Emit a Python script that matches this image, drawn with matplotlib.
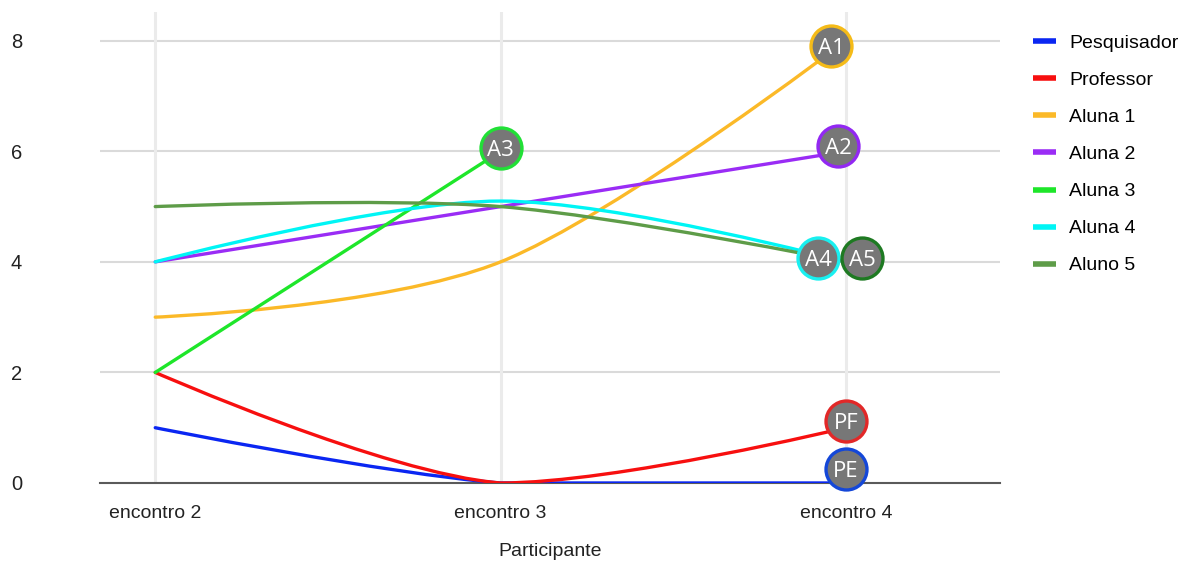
import matplotlib
matplotlib.use("Agg")
import matplotlib.pyplot as plt
from matplotlib.path import Path
from matplotlib.patches import PathPatch
from matplotlib.lines import Line2D
from matplotlib.transforms import offset_copy

# ---- data -----------------------------------------------------------
encontros = ["encontro 2", "encontro 3", "encontro 4"]
series_names = ["Pesquisador", "Professor", "Aluna 1", "Aluna 2",
                "Aluna 3", "Aluna 4", "Aluno 5"]
pesquisador = [1, 0, 0]
professor = [2, 0, 1]
aluna1 = [3, 4, 8]
aluna2 = [4, 5, 6]
aluna3 = [2, 6]
aluna4 = [4, 5.1, 4]
aluno5 = [5, 5, 4]
y_ticks = [0, 2, 4, 6, 8]

line_colors = ["#0a26f2", "#f70f0f", "#fbb928", "#9a2cf5",
               "#1ee62a", "#00f5f5", "#5e9c48"]

# badges drawn at the last point of each series
badge_labels = ["PE", "PF", "A1", "A2", "A3", "A4", "A5"]
badge_edges = ["#1447d8", "#e22828", "#f5bb18", "#9228f2",
               "#21e036", "#19f0f0", "#1e7a22"]
badge_offsets = [(0, 14), (0, 7), (-15, -5), (-8, 5), (0, 3), (-28, 4), (16, 4)]


def smooth_path(ys, floor=0.0):
    """Bezier through the points, Google-Charts-like 'function' curve.
    Control points are kept above the axis floor."""
    xs = list(range(len(ys)))
    pts = list(zip(xs, ys))
    n = len(pts)
    verts = [pts[0]]
    codes = [Path.MOVETO]
    k = 1 / 6
    for i in range(n - 1):
        p0 = pts[i - 1] if i > 0 else pts[i]
        p1, p2 = pts[i], pts[i + 1]
        p3 = pts[i + 2] if i + 2 < n else p2
        c1 = (p1[0] + (p2[0] - p0[0]) * k, p1[1] + (p2[1] - p0[1]) * k) if i > 0 else p1
        c2 = (p2[0] - (p3[0] - p1[0]) * k, p2[1] - (p3[1] - p1[1]) * k) if i + 2 < n else p2
        c1 = (c1[0], max(c1[1], floor))
        c2 = (c2[0], max(c2[1], floor))
        verts += [c1, c2, p2]
        codes += [Path.CURVE4] * 3
    return Path(verts, codes)


fig = plt.figure(figsize=(11.84, 5.63), dpi=100)
ax = fig.add_axes([100 / 1184, 1 - 483 / 563, 900 / 1184, 471 / 563])

ax.set_xlim(-0.16, 2.446)
ax.set_ylim(0, 8.52)

# grid
for yv in y_ticks[1:]:
    ax.axhline(yv, color="#dadada", lw=1.5, zorder=0)
for i in range(len(encontros)):
    ax.axvline(i, color="#ebebeb", lw=2.2, zorder=0)
ax.axhline(0, color="#5a5a5a", lw=1.5, zorder=1, clip_on=False)

all_series = [pesquisador, professor, aluna1, aluna2, aluna3, aluna4, aluno5]
handles = []
for name, vals, col in zip(series_names, all_series, line_colors):
    ax.add_patch(PathPatch(smooth_path(vals), fill=False, edgecolor=col,
                           lw=2.4, capstyle="round", joinstyle="round", zorder=3))
    handles.append(Line2D([], [], color=col, lw=4, solid_capstyle="butt", label=name))

# badges
for vals, lab, ec, (dx, dy) in zip(all_series, badge_labels, badge_edges, badge_offsets):
    tr = offset_copy(ax.transData, fig=fig, x=dx, y=dy, units="dots")
    x0, y0 = len(vals) - 1, vals[-1]
    ax.plot([x0], [y0], marker="o", markersize=29.5, markerfacecolor="#777777",
            markeredgecolor=ec, markeredgewidth=2.4, transform=tr,
            clip_on=False, zorder=5)
    ax.text(x0, y0, lab, transform=tr, ha="center", va="center_baseline",
            color="white", fontsize=16, family="Open Sans", weight="medium", zorder=6)

# axes styling
for s in ax.spines.values():
    s.set_visible(False)
ax.set_xticks(range(len(encontros)))
ax.set_xticklabels(encontros, fontsize=14, color="#222222", family="Liberation Sans")
ax.set_yticks(y_ticks)
ax.set_yticklabels([str(v) for v in y_ticks], fontsize=14.5, color="#222222",
                   family="Liberation Sans")
ax.tick_params(axis="x", length=0, pad=16)
ax.tick_params(axis="y", length=0, pad=56)
ax.set_xlabel("Participante", fontsize=14, color="#222222",
              family="Liberation Sans", labelpad=15)

fig.legend(handles=handles, loc="upper left", bbox_to_anchor=(1015 / 1184, 1 - 17 / 563),
           frameon=False, handlelength=1.2, handletextpad=0.7,
           labelspacing=1.0, prop={"family": "Liberation Sans", "size": 14})

fig.savefig("out.png", dpi=100)
